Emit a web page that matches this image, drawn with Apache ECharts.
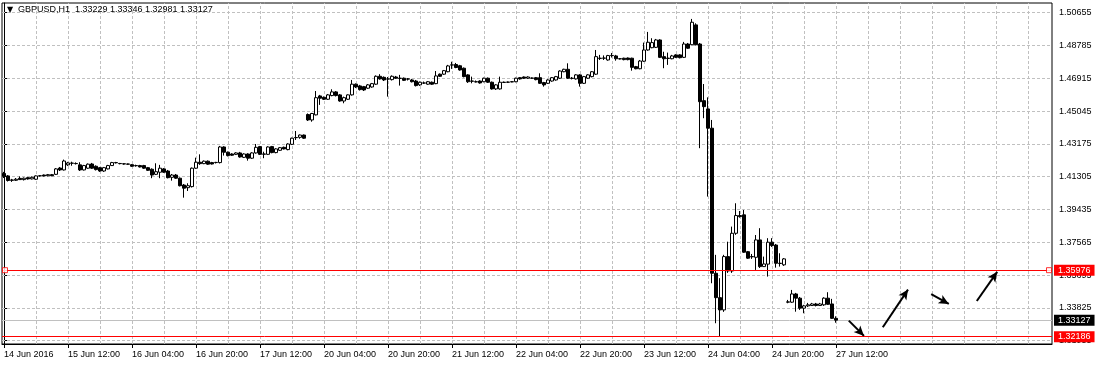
<!DOCTYPE html>
<html>
<head>
<meta charset="utf-8">
<script src="https://cdn.jsdelivr.net/npm/echarts@6.0.0/dist/echarts.min.js"></script>
<style>
html,body{margin:0;padding:0;background:#fff;}
#chart{width:1095px;height:365px;}
</style>
</head>
<body>
<div id="chart"></div>
<script>
// ---------------- data ----------------
const symbolName = 'GBPUSD,H1';
// time-axis labels, one every 16 hourly bars starting at bar 0 (14 Jun 20:00)
const tickLabels = ['14 Jun 2016','15 Jun 12:00','16 Jun 04:00','16 Jun 20:00','17 Jun 12:00',
  '20 Jun 04:00','20 Jun 20:00','21 Jun 12:00','22 Jun 04:00','22 Jun 20:00',
  '23 Jun 12:00','24 Jun 04:00','24 Jun 20:00','27 Jun 12:00'];
const priceTicks = [1.31955,1.33825,1.35695,1.37565,1.39435,1.41305,1.43175,1.45045,1.46915,1.48785,1.50655];

// hourly candles [open, close, low, high]
const jun14 = [
 [1.4149,1.4132,1.4123,1.4158],[1.4135,1.4109,1.4103,1.4140],[1.4112,1.4110,1.4101,1.4118],[1.4110,1.4116,1.4106,1.4123]];
const jun15 = [
 [1.4121,1.4114,1.4112,1.4132],[1.4114,1.4122,1.4109,1.4126],[1.4125,1.4118,1.4114,1.4129],[1.4118,1.4127,1.4115,1.4132],
 [1.4116,1.4135,1.4112,1.4138],[1.4135,1.4136,1.4132,1.4140],[1.4140,1.4135,1.4132,1.4143],[1.4136,1.4142,1.4133,1.4146],
 [1.4142,1.4136,1.4133,1.4146],[1.4144,1.4175,1.4140,1.4180],[1.4180,1.4169,1.4163,1.4186],[1.4169,1.4220,1.4166,1.4228],
 [1.4198,1.4209,1.4192,1.4215],[1.4207,1.4208,1.4193,1.4216],[1.4206,1.4205,1.4200,1.4212],[1.4198,1.4169,1.4163,1.4213],
 [1.4169,1.4194,1.4166,1.4198],[1.4179,1.4202,1.4175,1.4206],[1.4203,1.4179,1.4175,1.4209],[1.4190,1.4171,1.4166,1.4195],
 [1.4182,1.4163,1.4158,1.4186],[1.4163,1.4182,1.4158,1.4186],[1.4175,1.4194,1.4172,1.4198],[1.4194,1.4211,1.4192,1.4215]];
const jun16 = [
 [1.4211,1.4210,1.4206,1.4215],[1.4206,1.4205,1.4201,1.4209],[1.4204,1.4203,1.4199,1.4207],[1.4203,1.4202,1.4198,1.4205],
 [1.4199,1.4190,1.4186,1.4203],[1.4194,1.4193,1.4188,1.4199],[1.4194,1.4186,1.4183,1.4198],[1.4194,1.4179,1.4175,1.4198],
 [1.4182,1.4167,1.4163,1.4186],[1.4173,1.4140,1.4122,1.4178],[1.4144,1.4159,1.4140,1.4207],[1.4156,1.4179,1.4122,1.4198],
 [1.4175,1.4156,1.4152,1.4180],[1.4163,1.4125,1.4121,1.4169],[1.4127,1.4140,1.4108,1.4146],[1.4140,1.4122,1.4118,1.4146],
 [1.4122,1.4079,1.4075,1.4126],[1.4083,1.4065,1.4011,1.4089],[1.4068,1.4079,1.4049,1.4093],[1.4074,1.4179,1.4069,1.4183],
 [1.4179,1.4213,1.4175,1.4239],[1.4213,1.4205,1.4198,1.4258],[1.4205,1.4219,1.4202,1.4223],[1.4219,1.4202,1.4198,1.4223]];
const jun17 = [
 [1.4211,1.4203,1.4200,1.4215],[1.4211,1.4212,1.4206,1.4215],[1.4211,1.4300,1.4206,1.4306],[1.4300,1.4270,1.4251,1.4304],
 [1.4270,1.4251,1.4246,1.4274],[1.4260,1.4253,1.4249,1.4264],[1.4258,1.4266,1.4254,1.4270],[1.4266,1.4243,1.4239,1.4272],
 [1.4241,1.4260,1.4237,1.4264],[1.4260,1.4236,1.4222,1.4264],[1.4236,1.4266,1.4232,1.4270],[1.4266,1.4298,1.4262,1.4317],
 [1.4302,1.4258,1.4254,1.4306],[1.4260,1.4259,1.4236,1.4273],[1.4258,1.4300,1.4254,1.4304],[1.4302,1.4268,1.4264,1.4306],
 [1.4268,1.4289,1.4264,1.4293],[1.4281,1.4296,1.4277,1.4300],[1.4298,1.4289,1.4286,1.4302],[1.4285,1.4317,1.4281,1.4321],
 [1.4315,1.4350,1.4311,1.4353],[1.4353,1.4354,1.4340,1.4391],[1.4355,1.4368,1.4347,1.4371],[1.4368,1.4350,1.4346,1.4371]];
const jun20 = [
 [1.4485,1.4454,1.4448,1.4491],[1.4454,1.4491,1.4444,1.4494],[1.4483,1.4581,1.4480,1.4619],[1.4591,1.4578,1.4540,1.4597],
 [1.4583,1.4572,1.4568,1.4588],[1.4572,1.4597,1.4568,1.4602],[1.4593,1.4614,1.4589,1.4629],[1.4614,1.4593,1.4588,1.4619],
 [1.4597,1.4562,1.4558,1.4602],[1.4562,1.4581,1.4549,1.4587],[1.4572,1.4597,1.4568,1.4600],[1.4597,1.4658,1.4593,1.4682],
 [1.4658,1.4642,1.4636,1.4662],[1.4648,1.4627,1.4622,1.4654],[1.4644,1.4625,1.4619,1.4648],[1.4635,1.4654,1.4631,1.4659],
 [1.4642,1.4661,1.4638,1.4665],[1.4658,1.4703,1.4654,1.4708],[1.4703,1.4688,1.4684,1.4715],[1.4697,1.4682,1.4676,1.4702],
 [1.4688,1.4687,1.4587,1.4699],[1.4684,1.4703,1.4679,1.4708],[1.4699,1.4692,1.4688,1.4705],[1.4692,1.4691,1.4650,1.4711]];
const jun21 = [
 [1.4692,1.4680,1.4676,1.4696],[1.4688,1.4687,1.4679,1.4693],[1.4682,1.4672,1.4668,1.4688],[1.4676,1.4650,1.4645,1.4682],
 [1.4654,1.4669,1.4648,1.4673],[1.4665,1.4664,1.4659,1.4673],[1.4658,1.4672,1.4654,1.4676],[1.4669,1.4658,1.4654,1.4673],
 [1.4661,1.4705,1.4658,1.4733],[1.4715,1.4703,1.4699,1.4719],[1.4715,1.4735,1.4711,1.4739],[1.4729,1.4762,1.4726,1.4768],
 [1.4768,1.4767,1.4745,1.4786],[1.4770,1.4753,1.4749,1.4779],[1.4763,1.4739,1.4735,1.4768],[1.4749,1.4701,1.4697,1.4753],
 [1.4711,1.4672,1.4665,1.4715],[1.4676,1.4675,1.4663,1.4701],[1.4672,1.4671,1.4668,1.4679],[1.4676,1.4665,1.4661,1.4680],
 [1.4672,1.4692,1.4669,1.4695],[1.4692,1.4669,1.4665,1.4696],[1.4669,1.4631,1.4627,1.4673],[1.4631,1.4654,1.4625,1.4658]];
const jun22 = [
 [1.4631,1.4669,1.4627,1.4701],[1.4669,1.4668,1.4665,1.4673],[1.4669,1.4670,1.4665,1.4673],[1.4672,1.4671,1.4669,1.4676],
 [1.4672,1.4692,1.4669,1.4695],[1.4695,1.4688,1.4684,1.4699],[1.4699,1.4692,1.4688,1.4702],[1.4692,1.4699,1.4688,1.4703],
 [1.4692,1.4693,1.4688,1.4696],[1.4695,1.4684,1.4680,1.4699],[1.4695,1.4663,1.4659,1.4720],[1.4667,1.4654,1.4644,1.4671],
 [1.4663,1.4682,1.4659,1.4686],[1.4676,1.4695,1.4672,1.4699],[1.4682,1.4701,1.4678,1.4705],[1.4692,1.4733,1.4688,1.4737],
 [1.4729,1.4743,1.4726,1.4746],[1.4743,1.4692,1.4688,1.4777],[1.4692,1.4691,1.4685,1.4699],[1.4688,1.4711,1.4684,1.4715],
 [1.4711,1.4663,1.4644,1.4715],[1.4663,1.4701,1.4659,1.4705],[1.4692,1.4711,1.4688,1.4715],[1.4701,1.4729,1.4697,1.4733]];
const jun23 = [
 [1.4715,1.4815,1.4711,1.4853],[1.4806,1.4805,1.4796,1.4825],[1.4806,1.4807,1.4796,1.4822],[1.4796,1.4821,1.4792,1.4825],
 [1.4822,1.4821,1.4810,1.4836],[1.4819,1.4803,1.4792,1.4825],[1.4803,1.4802,1.4799,1.4807],[1.4806,1.4798,1.4794,1.4809],
 [1.4807,1.4798,1.4794,1.4810],[1.4806,1.4754,1.4735,1.4809],[1.4758,1.4746,1.4743,1.4762],[1.4746,1.4790,1.4743,1.4796],
 [1.4789,1.4853,1.4785,1.4895],[1.4853,1.4897,1.4849,1.4956],[1.4866,1.4895,1.4863,1.4920],[1.4868,1.4910,1.4864,1.4916],
 [1.4910,1.4811,1.4807,1.4914],[1.4815,1.4803,1.4749,1.4843],[1.4806,1.4805,1.4768,1.4838],[1.4803,1.4819,1.4800,1.4825],
 [1.4825,1.4811,1.4807,1.4829],[1.4825,1.4809,1.4805,1.4829],[1.4811,1.4887,1.4807,1.4899],[1.4887,1.4863,1.4859,1.4893]];
const jun24 = [
 [1.4883,1.5011,1.4880,1.5030],[1.4996,1.4883,1.4879,1.5005],[1.4887,1.4558,1.4293,1.4893],[1.4564,1.4530,1.4464,1.4659],
 [1.4517,1.4407,1.4017,1.4583],[1.4407,1.3580,1.3523,1.4454],[1.3580,1.3441,1.3295,1.3685],[1.3441,1.3371,1.32186,1.3552],
 [1.3371,1.3675,1.3360,1.3685],[1.3675,1.3593,1.3582,1.3760],[1.3593,1.3808,1.3582,1.3846],[1.3808,1.3909,1.3799,1.3979],
 [1.3909,1.3903,1.3897,1.3935],[1.3913,1.3700,1.3696,1.3941],[1.3703,1.3666,1.3662,1.3707],[1.3675,1.3674,1.3662,1.3690],
 [1.3671,1.3770,1.3599,1.3798],[1.3770,1.3618,1.3610,1.3837],[1.3618,1.3633,1.3616,1.3675],[1.3632,1.3757,1.3561,1.3780],
 [1.3757,1.3738,1.3730,1.3780],[1.3741,1.3637,1.3612,1.3747],[1.3637,1.3636,1.3618,1.3694],[1.3628,1.3662,1.3622,1.3667]];
const jun27 = [
 [1.3415,1.3417,1.3409,1.3428],[1.3415,1.3462,1.3411,1.3485],[1.3462,1.3438,1.3361,1.3468],[1.3438,1.3381,1.3371,1.3445],
 [1.3381,1.3394,1.3352,1.3400],[1.3394,1.3400,1.3388,1.3411],[1.3396,1.3405,1.3394,1.3411],[1.3405,1.3396,1.3391,1.3411],
 [1.3396,1.3405,1.3394,1.3411],[1.3400,1.3438,1.3394,1.3443],[1.3438,1.3403,1.3400,1.3472],[1.3405,1.3323,1.3320,1.3434],
 [1.33229,1.33127,1.32981,1.33346]];

// horizontal line objects (red) and their selection handles (bar positions)
const levelLines = [1.35976, 1.32186];
const levelHandleX = [0.25, 261.25];
// hand-drawn arrows: [[barStart, priceStart], [barEnd, priceEnd]]
const arrows = [
  [[211.2, 1.3310], [215.0, 1.3223]],
  [[219.7, 1.3272], [226.0, 1.3487]],
  [[231.8, 1.3461], [236.2, 1.3405]],
  [[243.2, 1.3422], [248.3, 1.3588]]
];

// ---------------- build ----------------
const days = [jun14, jun15, jun16, jun17, jun20, jun21, jun22, jun23, jun24, jun27];
const bars = [].concat(...days);
const candleData = bars.map((b, i) => [i, b[0], b[1], b[2], b[3]]);
const last = bars[bars.length - 1];
const bidPrice = last[1];
const labelIdx = tickLabels.map((_, j) => j * 16);
const vGrid = [];
for (let i = 8; i <= 256; i += 8) vGrid.push(i);

const FONT = 'Liberation Sans';
const Y_MIN = 1.31767, Y_MAX = 1.51208;
const fmt = v => Number(v).toFixed(5);

const chart = echarts.init(document.getElementById('chart'), null, {renderer: 'canvas'});
const titleText = '{t|\u25BC}' + symbolName + '  ' + [last[0], last[3], last[2], last[1]].map(fmt).join(' ');

const priceLabel = bg => ({
  show: true, position: 'end', distance: 2, formatter: p => fmt(p.value),
  backgroundColor: bg, color: '#fff', padding: [1, 4, 1, 4], fontFamily: FONT, fontSize: 9, lineHeight: 9
});

const option = {
  animation: false,
  textStyle: {fontFamily: FONT},
  title: {
    text: titleText, left: 7, top: 5, padding: 0,
    textStyle: {fontFamily: FONT, fontSize: 9, fontWeight: 'normal', color: '#000',
      rich: {t: {fontSize: 8, width: 11, fontFamily: 'DejaVu Sans', color: '#000'}}}
  },
  grid: {left: 2, right: 43, top: 3, bottom: 21, show: true, borderColor: '#000', borderWidth: 1, backgroundColor: '#fff'},
  xAxis: {
    type: 'value', min: -0.5, max: 262,
    axisLine: {show: true, lineStyle: {color: '#000', width: 1}},
    axisTick: {show: true, customValues: labelIdx, length: 4, lineStyle: {color: '#000'}},
    axisLabel: {customValues: labelIdx, formatter: v => tickLabels[Math.round(v / 16)], align: 'left',
      margin: 6, fontFamily: FONT, fontSize: 9, color: '#000'},
    splitLine: {show: false}
  },
  yAxis: {
    type: 'value', position: 'right', min: Y_MIN, max: Y_MAX, scale: true,
    axisLine: {show: true, lineStyle: {color: '#000', width: 1}},
    axisTick: {show: true, customValues: priceTicks, length: 3, lineStyle: {color: '#000'}},
    axisLabel: {customValues: priceTicks, formatter: fmt, margin: 7, fontFamily: FONT, fontSize: 9, color: '#000'},
    splitLine: {show: false}
  },
  series: [
    { // dashed chart grid
      type: 'line', data: [], silent: true, z: 1,
      markLine: {
        silent: true, z: 1, symbol: 'none', label: {show: false}, animation: false, precision: 5,
        lineStyle: {color: '#c0c0c0', width: 1, type: [3, 2]},
        emphasis: {disabled: true},
        data: priceTicks.map(v => ({yAxis: v})).concat(vGrid.map(v => ({xAxis: v})))
      }
    },
    { // bid line
      type: 'line', data: [], silent: true, z: 3,
      markLine: {
        silent: true, z: 3, symbol: 'none', animation: false, precision: 5,
        lineStyle: {color: '#c0c0c0', width: 1, type: 'solid'},
        emphasis: {disabled: true},
        label: priceLabel('#000000'),
        data: [{yAxis: bidPrice}]
      }
    },
    {
      type: 'candlestick', data: candleData, barWidth: 3, silent: true, z: 4,
      itemStyle: {color: '#ffffff', color0: '#000000', borderColor: '#000000', borderColor0: '#000000',
        borderColorDoji: '#000000', borderWidth: 1}
    },
    { // red horizontal level lines
      type: 'line', data: [], silent: true, z: 5,
      markLine: {
        silent: true, z: 5, symbol: 'none', animation: false, precision: 5,
        lineStyle: {color: '#ff0000', width: 1, type: 'solid'},
        emphasis: {disabled: true},
        label: priceLabel('#ff0000'),
        data: levelLines.map(v => ({yAxis: v}))
      }
    },
    { // selection handles of the upper level line
      type: 'scatter', silent: true, z: 6,
      symbol: 'rect', symbolSize: 5,
      itemStyle: {color: '#ffffff', borderColor: '#ff0000', borderWidth: 1},
      data: levelHandleX.map(x => [x, levelLines[0]])
    },
    { // arrows
      type: 'line', data: [], silent: true, z: 7,
      markLine: {
        silent: true, z: 7, symbol: ['none', 'arrow'], symbolSize: [7, 10], animation: false,
        label: {show: false},
        emphasis: {disabled: true},
        lineStyle: {color: '#000', width: 2, type: 'solid'},
        data: arrows.map(a => [{coord: a[0]}, {coord: a[1]}])
      }
    }
  ]
};
chart.setOption(option);
</script>
</body>
</html>
